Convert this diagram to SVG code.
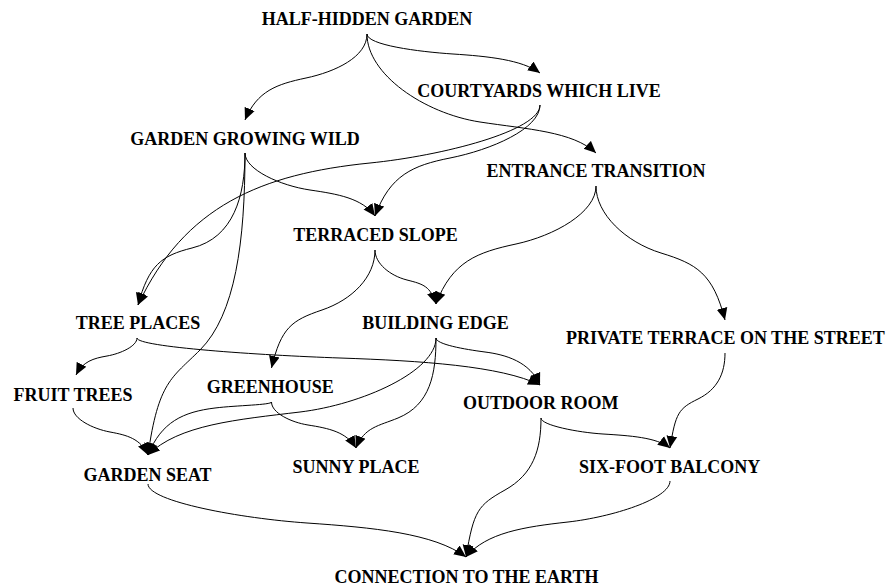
<svg xmlns="http://www.w3.org/2000/svg" width="889" height="588" viewBox="0 0 889 588">
  <defs>
    <style>
      .node text { font-family: "Liberation Serif", "Times New Roman", serif; font-weight: bold; font-size: 18px; text-anchor: middle; fill: #000; }
      .edges path { fill: none; stroke: #000; stroke-width: 1; marker-end: url(#arrow); }
    </style>
    <marker id="arrow" markerUnits="userSpaceOnUse" markerWidth="12" markerHeight="12" viewBox="0 -5 10 10" refX="10" refY="0" orient="auto">
      <path d="M0,-4.5 L10,0 L0,4.5 z" fill="#000"/>
    </marker>
  </defs>
  <rect width="889" height="588" fill="#fff"/>

  <g class="edges" id="connectors">
    <path d="M367,34 C367,45 418,51.7 453,54 C488,56.3 521.8,59.7 540,73"/>
    <path d="M367,34 C367,57 335.3,71.8 306,78 C276.7,84.2 257.2,90.9 245,120"/>
    <path d="M367,34 C367,74 423.7,113.3 480,122 C527.4,129.3 572.8,131.3 596,153"/>
    <path d="M540,105 C540,131 441.6,155.8 370,163 C261.5,173.9 184.4,205.9 138,305"/>
    <path d="M540,105 C540,128.9 491.2,149.8 450,158 C412.8,165.4 390,175.1 375,216"/>
    <path d="M245,153 C245,169.7 280.3,185.6 310,190 C337.7,194.1 362,198.1 375,216"/>
    <path d="M245,153 C245,195.8 233.7,237.7 192,248 C161,255.7 148.8,265.4 138,305"/>
    <path d="M245,153 C245,241.7 235.4,314.6 200,350 C171.7,378.3 158.4,381.2 148,455"/>
    <path d="M596,186 C596,212.7 554.1,235.8 516,244 C477.9,252.2 452,261.1 436,304"/>
    <path d="M596,186 C596,214 625.6,242.1 661,253 C696.4,263.9 713,273.1 725,320"/>
    <path d="M375,250 C375,263.5 390,275.7 407,280 C424,284.3 430.2,286.3 436,304"/>
    <path d="M375,250 C375,277 352.3,299.7 322,310 C291.7,320.3 281.2,327.4 271.5,368"/>
    <path d="M137,338 C137,346.1 120.8,353.6 107,356 C93.2,358.4 83,361.4 76,375"/>
    <path d="M137,338 C137,347 259,355.2 340,358 C421,360.8 500.8,365.8 540,385"/>
    <path d="M436,338 C436,344.3 464.2,349.3 485,352 C505.8,354.7 529.8,361.6 540,385"/>
    <path d="M436,338 C436,371.3 361.6,404.6 300,412 C237.4,419.6 178.4,424.6 148,455"/>
    <path d="M436,338 C436,374 430.3,404.7 398,418 C378.6,426 364.4,427 356,448"/>
    <path d="M73,408 C73,418.8 92.7,428.8 110,432 C127.3,435.2 140.4,438.6 148,455"/>
    <path d="M271.5,402 C271.5,405 236.8,405.3 215,408 C183.2,411.9 161.4,421.8 148,455"/>
    <path d="M271.5,402 C271.5,412.9 291,422.3 308,425 C328.7,428.3 346.4,431.9 356,448"/>
    <path d="M725,353 C725,373.7 717.3,389.5 698,399 C678.7,408.5 675.6,412.8 670,448"/>
    <path d="M541,418 C541,425.2 577.5,432.4 603,434 C630,435.7 656.6,437.3 670,448"/>
    <path d="M541,418 C541,450.4 532.9,474.4 505,490 C477.9,505.2 473.8,510.4 466,557"/>
    <path d="M148,484 C148,501.6 241.6,518.5 307,523 C372.4,527.5 434.2,533.2 466,557"/>
    <path d="M670,481 C670,498.9 611.7,517.1 568,522 C524.3,526.9 486.4,532.5 466,557"/>
  </g>

  <g class="node" id="half-hidden-garden"><text x="367" y="25">HALF-HIDDEN GARDEN</text></g>
  <g class="node" id="courtyards-which-live"><text x="539" y="97">COURTYARDS WHICH LIVE</text></g>
  <g class="node" id="garden-growing-wild"><text x="245" y="145">GARDEN GROWING WILD</text></g>
  <g class="node" id="entrance-transition"><text x="596" y="177">ENTRANCE TRANSITION</text></g>
  <g class="node" id="terraced-slope"><text x="375.5" y="241">TERRACED SLOPE</text></g>
  <g class="node" id="tree-places"><text x="138" y="329">TREE PLACES</text></g>
  <g class="node" id="building-edge"><text x="435.5" y="329">BUILDING EDGE</text></g>
  <g class="node" id="private-terrace"><text x="725.3" y="344">PRIVATE TERRACE ON THE STREET</text></g>
  <g class="node" id="fruit-trees"><text x="73" y="401">FRUIT TREES</text></g>
  <g class="node" id="greenhouse"><text x="270.3" y="392.5">GREENHOUSE</text></g>
  <g class="node" id="outdoor-room"><text x="540.8" y="409">OUTDOOR ROOM</text></g>
  <g class="node" id="garden-seat"><text x="147.5" y="481">GARDEN SEAT</text></g>
  <g class="node" id="sunny-place"><text x="356" y="472.5">SUNNY PLACE</text></g>
  <g class="node" id="six-foot-balcony"><text x="669.7" y="473">SIX-FOOT BALCONY</text></g>
  <g class="node" id="connection-to-the-earth"><text x="466.5" y="583">CONNECTION TO THE EARTH</text></g>
</svg>
